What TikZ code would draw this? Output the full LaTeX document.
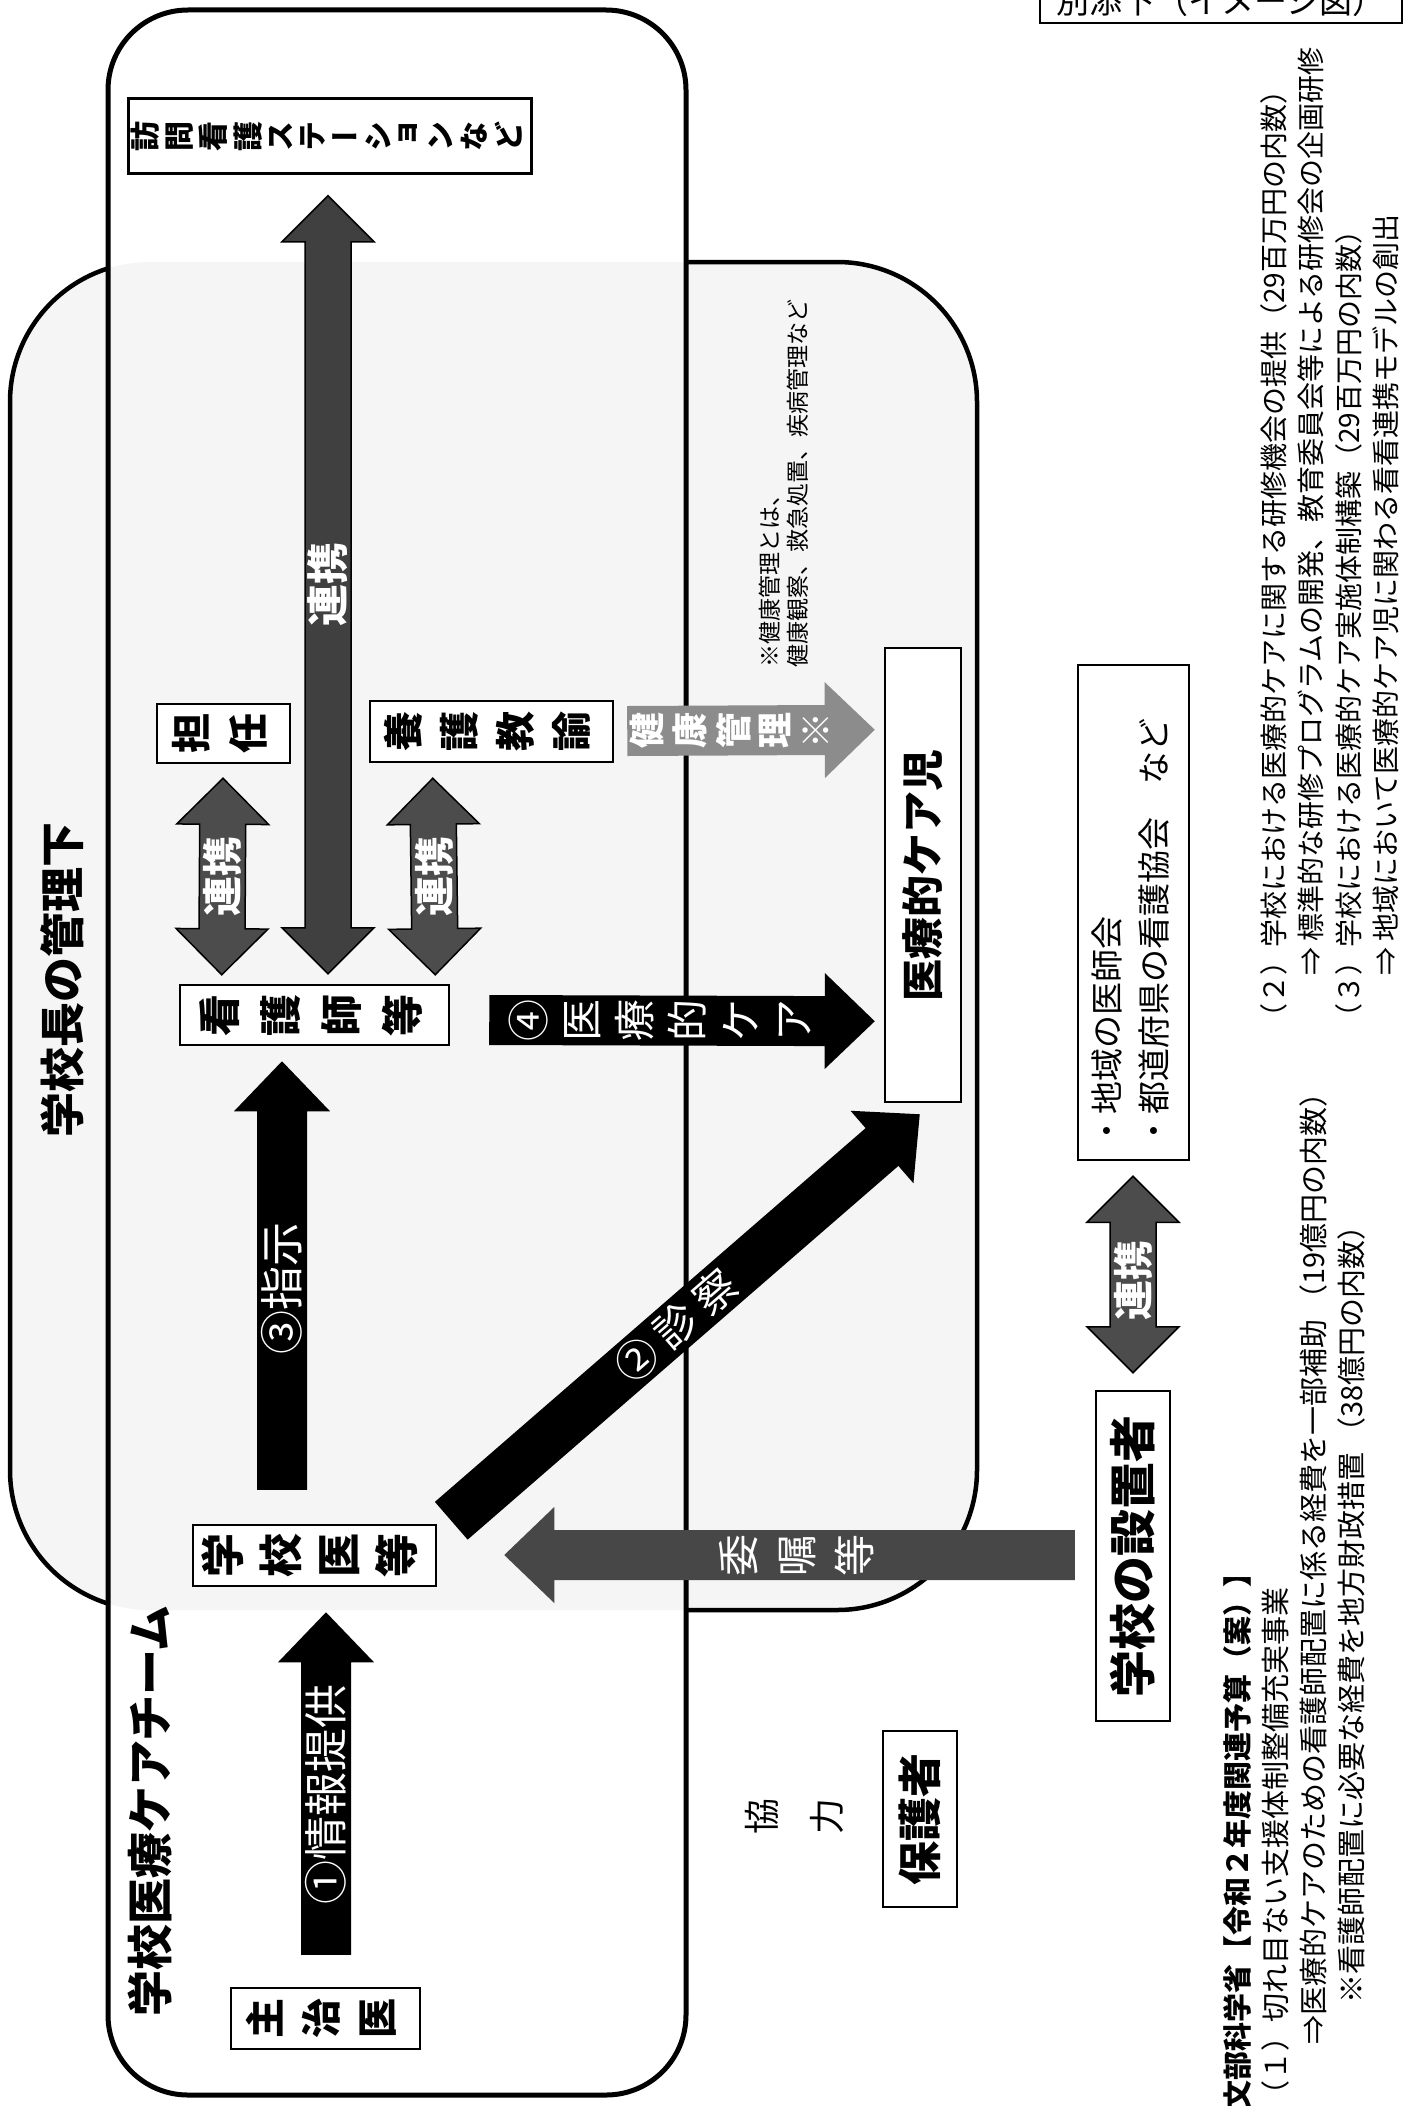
\documentclass[tikz,border=0pt]{standalone}
\usepackage{fontspec}
\setmainfont{Noto Sans CJK JP}
\newfontfamily\tatefont{Noto Sans CJK JP}[RawFeature=+vert]
\usepackage{graphicx}
\usetikzlibrary{calc}

\tikzset{
  % Common styles for the chart
  box/.style={draw, line width=2.5pt, fill=white, inner sep=0pt},
  plain/.style={inner sep=0pt},
  arrowtext/.style={text=white, inner sep=0pt},
  dbl/.style={fill=black!70, draw=black, line width=1.5pt}
}

% text turned on its side
\newcommand{\yoko}[1]{\rotatebox{90}{#1}}
% vertical writing: one character under the other, then turned
\makeatletter
\newcommand{\tate}[1]{\gdef\tate@list{}\tate@build#1\@nil
  \rotatebox{90}{\begin{tabular}{@{}c@{}}\tate@list\end{tabular}}}
\def\tate@build#1#2\@nil{%
  \ifx\@nil#2\@nil\g@addto@macro\tate@list{#1}%
  \else\g@addto@macro\tate@list{#1\\}\tate@build#2\@nil\fi}
\makeatother

% fat arrows
\newcommand{\shafthalf}{25pt}
\newcommand{\headhalf}{48pt}
\newcommand{\headlen}{50pt}
\newcommand{\fatarrow}[3][]{%
  \coordinate (fa-h) at ($(#3)!\headlen!(#2)$);
  \fill[#1] ($(#2)!\shafthalf!90:(#3)$) -- ($(fa-h)!\shafthalf!90:(#3)$)
    -- ($(fa-h)!\headhalf!90:(#3)$) -- (#3)
    -- ($(fa-h)!\headhalf!-90:(#3)$) -- ($(fa-h)!\shafthalf!-90:(#3)$)
    -- ($(#2)!\shafthalf!-90:(#3)$) -- cycle;}
\newcommand{\dshafthalf}{23pt}
\newcommand{\dheadhalf}{46pt}
\newcommand{\dheadlen}{46pt}
\newcommand{\dblarrow}[3][]{%
  \coordinate (da-a) at ($(#2)!\dheadlen!(#3)$);
  \coordinate (da-b) at ($(#3)!\dheadlen!(#2)$);
  \filldraw[#1] (#2) -- ($(da-a)!\dheadhalf!90:(#3)$)
    -- ($(da-a)!\dshafthalf!90:(#3)$) -- ($(da-b)!\dshafthalf!90:(#3)$)
    -- ($(da-b)!\dheadhalf!90:(#3)$) -- (#3)
    -- ($(da-b)!\dheadhalf!-90:(#3)$) -- ($(da-b)!\dshafthalf!-90:(#3)$)
    -- ($(da-a)!\dshafthalf!-90:(#3)$) -- ($(da-a)!\dheadhalf!-90:(#3)$) -- cycle;}

\begin{document}
\begin{tikzpicture}[x=1pt, y=-1pt]
    \useasboundingbox (0,0) rectangle (1407,2106);
    \fill[white] (0,0) rectangle (1407,2106);

    % Frames
    \draw[line width=4.5pt, fill=black!4, rounded corners=140pt] (10,262) rectangle (977,1610);
    \fill[white, rounded corners=80pt] (108,10) rectangle (686,2095);
    \begin{scope}
      \clip[rounded corners=140pt] (10,262) rectangle (977,1610);
      \fill[black!4, rounded corners=80pt] (108,10) rectangle (686,2095);
    \end{scope}
    \draw[line width=5pt, rounded corners=80pt] (108,10) rectangle (686,2095);

    \node[plain, font=\bfseries\fontsize{45}{45}\selectfont] (kanriT) at (62,980) {\yoko{学校長の管理下}};
    \node[plain, font=\bfseries\fontsize{46}{46}\selectfont] (teamT) at (150,1811) {\yoko{学校医療ケアチーム}};
    \node[box, minimum width=362pt, minimum height=45pt, font=\fontsize{33}{33}\selectfont] (betten) at (1221,0.5) {別添下（イメージ図）};

    % Place nodes
    \node[box, minimum width=403pt, minimum height=75pt, font=\tatefont\bfseries\fontsize{30}{30.5}\selectfont] (houmon) at (330,136) {\tate{訪問看護ステーションなど}};
    \node[box, minimum width=133pt, minimum height=59pt, font=\bfseries\fontsize{40}{57}\selectfont] (tannin) at (223.5,733.5) {\tate{担任}};
    \node[box, minimum width=243pt, minimum height=61pt, font=\bfseries\fontsize{40}{56}\selectfont] (yougo) at (491.5,731.5) {\tate{養護教諭}};
    \node[box, minimum width=269pt, minimum height=60pt, font=\bfseries\fontsize{42}{61}\selectfont] (kango) at (314.5,1015) {\tate{看護師等}};
    \node[box, minimum width=76pt, minimum height=454pt, font=\bfseries\fontsize{42}{42}\selectfont] (careji) at (923,875) {\yoko{医療的ケア児}};
    \node[box, minimum width=111pt, minimum height=495pt, font=\fontsize{33}{47}\selectfont] (chiiki) at (1133.5,912.5)
      {\yoko{\begin{tabular}{@{}l@{\hspace{40pt}}}・地域の医師会\\・都道府県の看護協会　など\end{tabular}}};
    \node[box, minimum width=74pt, minimum height=330pt, font=\bfseries\fontsize{47}{47}\selectfont] (secchi) at (1133,1556) {\yoko{学校の設置者}};
    \node[box, minimum width=74pt, minimum height=176pt, font=\bfseries\fontsize{44}{44}\selectfont] (hogo) at (920,1819) {\yoko{保護者}};
    \node[box, minimum width=243pt, minimum height=61pt, font=\bfseries\fontsize{44}{58}\selectfont] (gakkoui) at (314.5,1555.5) {\tate{学校医等}};
    \node[box, minimum width=189pt, minimum height=61pt, font=\bfseries\fontsize{40}{56}\selectfont] (shujii) at (325.5,2018.5) {\tate{主治医}};
    \node[plain, font=\fontsize{36}{65}\selectfont] (kyoryoku) at (795,1816) {\tate{協力}};

    \node[plain, anchor=south west, font=\fontsize{23}{27}\selectfont] (note) at (759,668)
      {\yoko{\begin{tabular}{@{}l@{}}※健康管理とは、\\健康観察、救急処置、疾病管理など\end{tabular}}};
    \node[plain, anchor=south west, font=\fontsize{28}{37.5}\selectfont] (yosanR) at (1258,1032)
      {\yoko{\begin{tabular}{@{}l@{}}
      （２）学校における医療的ケアに関する研修機会の提供（29百万円の内数）\\
      \hspace*{56pt}⇒ 標準的な研修プログラムの開発、教育委員会等による研修会の企画研修\\
      （３）学校における医療的ケア実施体制構築（29百万円の内数）\\
      \hspace*{56pt}⇒ 地域において医療的ケア児に関わる看看連携モデルの創出
      \end{tabular}}};
    \node[plain, anchor=south west, font=\fontsize{29}{38}\selectfont] (yosanL) at (1222,2110)
      {\yoko{\begin{tabular}{@{}l@{}}
      \textbf{文部科学省【令和２年度関連予算（案）】}\\
      （１）切れ目ない支援体制整備充実事業\\
      \hspace*{65pt}⇒医療的ケアのための看護師配置に係る経費を一部補助 （19億円の内数）\\
      \hspace*{106pt}※看護師配置に必要な経費を地方財政措置 （38億円の内数）
      \end{tabular}}};

    % Arrow ends
    \coordinate (renA) at ($(houmon.south)+(-2,21)$);
    \coordinate (renB) at ($(kango.north)+(13.5,-10)$);
    \coordinate (renLA) at ($(tannin.south)+(-0.5,14)$);
    \coordinate (renLB) at ($(kango.north west)+(43,-9)$);
    \coordinate (renRA) at ($(yougo.south west)+(64,15)$);
    \coordinate (renRB) at ($(kango.north east)+(-15,-9)$);
    \coordinate (renSA) at ($(chiiki.south)+(-0.5,15)$);
    \coordinate (renSB) at ($(secchi.north)+(0,-17)$);
    \coordinate (siziA) at ($(gakkoui.north)+(-32.5,-34)$);
    \coordinate (siziB) at ($(kango.south)+(-32.5,15)$);
    \coordinate (zyohoA) at ($(shujii.north)+(0.5,-32)$);
    \coordinate (zyohoB) at ($(gakkoui.south)+(11.5,25)$);
    \coordinate (sinA) at ($(gakkoui.north east)+(14,-3)$);
    \coordinate (sinB) at ($(careji.south west)+(36,11)$);
    \coordinate (iryoA) at ($(kango.east)+(39,5)$);
    \coordinate (iryoB) at ($(careji.south west)+(-9,-82)$);
    \coordinate (kenA) at ($(yougo.east)+(13,-0.5)$);
    \coordinate (kenB) at ($(careji.north west)+(-9,83)$);
    \coordinate (iiA) at ($(secchi.west)+(-20,-1)$);
    \coordinate (iiB) at ($(gakkoui.east)+(67,-0.5)$);

    % Draw arrows
    \dblarrow[dbl, fill=black!75]{renA}{renB}
    \dblarrow[dbl]{renLA}{renLB}
    \dblarrow[dbl]{renRA}{renRB}
    \dblarrow[dbl]{renSA}{renSB}
    \fatarrow[black]{siziA}{siziB}
    \fatarrow[black]{zyohoA}{zyohoB}
    \fatarrow[black]{sinA}{sinB}
    \fatarrow[black]{iryoA}{iryoB}
    \fatarrow[black!45]{kenA}{kenB}
    \fatarrow[black!72]{iiA}{iiB}

    % Arrow labels
    \node[arrowtext, font=\bfseries\fontsize{42}{42}\selectfont] (renT) at ($(renA)!.5!(renB)$) {\yoko{連携}};
    \node[arrowtext, font=\bfseries\fontsize{40}{40}\selectfont] (renLT) at ($(renLA)!.5!(renLB)$) {\yoko{連携}};
    \node[arrowtext, font=\bfseries\fontsize{40}{40}\selectfont] (renRT) at ($(renRA)!.5!(renRB)$) {\yoko{連携}};
    \node[arrowtext, font=\bfseries\fontsize{40}{40}\selectfont] (renST) at ($(renSA)!.53!(renSB)$) {\yoko{連携}};
    \node[arrowtext, font=\fontsize{44}{44}\selectfont] (siziT) at ($(siziA)!.47!(siziB)$) {\yoko{③指示}};
    \node[arrowtext, font=\fontsize{44}{44}\selectfont] (zyohoT) at ($(zyohoA)!.467!(zyohoB)$) {\yoko{①情報提供}};
    \node[arrowtext, font=\fontsize{42}{42}\selectfont] (sinT) at ($(sinA)!.48!(sinB)$) {\rotatebox{41}{② 診 察}};
    \node[arrowtext, font=\fontsize{42}{53}\selectfont] (iryoT) at ($(iryoA)!.46!(iryoB)$) {\tate{④医療的ケア}};
    \node[arrowtext, font=\bfseries\fontsize{36}{41}\selectfont] (kenT) at ($(kenA)!.44!(kenB)$) {\tate{健康管理※}};
    \node[arrowtext, font=\fontsize{42}{58}\selectfont] (iiT) at ($(iiA)!.48!(iiB)$) {\tate{委嘱等}};
\end{tikzpicture}
\end{document}
